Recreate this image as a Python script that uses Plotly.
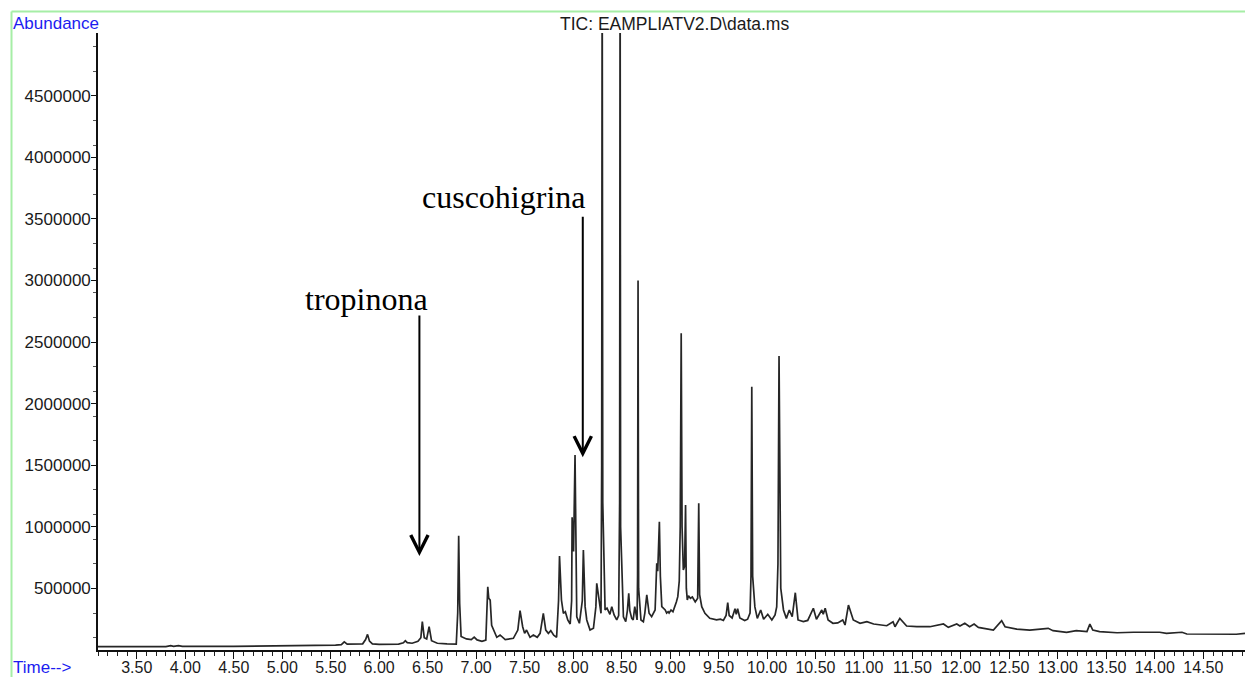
import plotly.graph_objects as go

# ---------------- data ----------------
retention_time_min = [
    3.10, 3.50, 3.80, 3.85, 3.88, 3.93, 3.97, 4.50, 5.00, 5.30, 5.55, 5.61, 5.64, 5.67, 5.75, 5.83,
    5.86, 5.88, 5.90, 5.93, 6.00, 6.10, 6.20, 6.25, 6.27, 6.29, 6.34, 6.40, 6.43, 6.445, 6.465, 6.49,
    6.515, 6.54, 6.60, 6.70, 6.795, 6.81, 6.82, 6.83, 6.845, 6.90, 6.95, 6.98, 7.01, 7.06, 7.10, 7.11,
    7.12, 7.13, 7.145, 7.16, 7.178, 7.213, 7.247, 7.30, 7.384, 7.43, 7.453, 7.48, 7.50, 7.52, 7.556,
    7.59, 7.63, 7.66, 7.693, 7.718, 7.745, 7.77, 7.80, 7.83, 7.85, 7.86, 7.88, 7.90, 7.92, 7.945,
    7.97, 7.985, 7.99, 8.005, 8.02, 8.03, 8.038, 8.065, 8.095, 8.106, 8.124, 8.141, 8.175, 8.21,
    8.235, 8.244, 8.26, 8.278, 8.288, 8.295, 8.300, 8.306, 8.33, 8.35, 8.364, 8.38, 8.399, 8.423,
    8.45, 8.47, 8.48, 8.485, 8.49, 8.519, 8.543, 8.56, 8.574, 8.585, 8.605, 8.62, 8.636, 8.65, 8.66,
    8.665, 8.670, 8.676, 8.70, 8.725, 8.74, 8.76, 8.77, 8.784, 8.81, 8.83, 8.846, 8.863, 8.873, 8.89,
    8.90, 8.915, 8.93, 8.95, 8.965, 8.98, 8.99, 9.01, 9.03, 9.05, 9.065, 9.08, 9.095, 9.105, 9.115,
    9.124, 9.137, 9.15, 9.16, 9.168, 9.178, 9.19, 9.21, 9.23, 9.26, 9.285, 9.296, 9.305, 9.327, 9.36,
    9.41, 9.48, 9.52, 9.55, 9.578, 9.595, 9.61, 9.64, 9.67, 9.683, 9.697, 9.72, 9.77, 9.80, 9.825,
    9.835, 9.843, 9.852, 9.862, 9.875, 9.90, 9.935, 9.965, 10.008, 10.05, 10.083, 10.10, 10.113,
    10.124, 10.134, 10.142, 10.17, 10.20, 10.23, 10.26, 10.292, 10.32, 10.375, 10.42, 10.478, 10.51,
    10.565, 10.58, 10.60, 10.63, 10.68, 10.73, 10.781, 10.805, 10.84, 10.864, 10.89, 10.96, 11.03,
    11.10, 11.17, 11.235, 11.30, 11.32, 11.37, 11.39, 11.406, 11.44, 11.545, 11.68, 11.82, 11.87,
    11.957, 11.99, 12.04, 12.09, 12.136, 12.18, 12.335, 12.37, 12.42, 12.455, 12.575, 12.71, 12.90,
    12.95, 13.09, 13.19, 13.30, 13.33, 13.36, 13.43, 13.61, 13.78, 14.05, 14.12, 14.28, 14.33, 14.64,
    14.84, 14.93,
]
abundance = [
    28000, 27000, 28000, 36000, 30000, 35000, 29000, 30000, 33000, 36000, 40000, 44000, 66000, 48000, 46000, 50000,
    85000, 127000, 72000, 50000, 46000, 44000, 48000, 58000, 75000, 60000, 55000, 70000, 100000, 230000, 100000, 90000,
    189000, 75000, 55000, 50000, 48000, 300000, 928000, 380000, 110000, 90000, 85000, 105000, 82000, 70000, 80000, 300000,
    514000, 420000, 405000, 200000, 162000, 103000, 122000, 85000, 95000, 162000, 319000, 189000, 135000, 162000, 103000,
    122000, 103000, 135000, 298000, 162000, 135000, 157000, 120000, 103000, 400000, 763000, 406000, 298000, 311000, 244000,
    211000, 400000, 1078000, 800000, 1583000, 500000, 270000, 217000, 400000, 812000, 352000, 244000, 162000, 176000,
    350000, 541000, 460000, 352000, 298000, 1500000, 5800000, 1200000, 325000, 340000, 311000, 290000, 352000, 284000,
    244000, 280000, 1200000, 5800000, 1000000, 270000, 230000, 320000, 460000, 320000, 257000, 244000, 352000, 270000, 244000,
    600000, 3000000, 500000, 244000, 230000, 300000, 447000, 370000, 298000, 270000, 300000, 325000, 704000, 640000, 1042000,
    600000, 352000, 340000, 325000, 300000, 311000, 300000, 325000, 310000, 352000, 390000, 433000, 560000, 1000000, 2572000,
    1000000, 650000, 680000, 1177000, 500000, 406000, 440000, 420000, 430000, 390000, 420000, 1191000, 450000, 352000, 298000,
    257000, 244000, 250000, 240000, 280000, 385000, 280000, 260000, 335000, 290000, 335000, 260000, 240000, 250000, 300000,
    600000, 2138000, 600000, 487000, 350000, 257000, 325000, 250000, 290000, 244000, 284000, 350000, 700000,
    2387000, 650000, 501000, 325000, 257000, 325000, 270000, 465000, 244000, 230000, 240000, 339000, 250000,
    325000, 290000, 339000, 244000, 217000, 220000, 244000, 203000, 365000, 298000, 244000, 217000, 230000,
    211000, 203000, 197000, 230000, 189000, 257000, 240000, 230000, 195000, 189000, 189000, 211000, 184000,
    211000, 195000, 217000, 189000, 211000, 184000, 162000, 190000, 238000, 189000, 170000, 162000, 176000,
    157000, 144000, 157000, 149000, 211000, 162000, 149000, 140000, 144000, 144000, 135000, 144000, 130000, 128000,
    128000, 135000,
]

y_tick_values = [500000, 1000000, 1500000, 2000000, 2500000, 3000000, 3500000, 4000000, 4500000]
x_range = [3.10, 14.93]
y_range = [0, 5010000]

compound_names = ["tropinona", "cuscohigrina"]
arrow_tip_time = [6.415, 8.10]
arrow_tip_abundance = [763000, 1566000]

title_text = "TIC: EAMPLIATV2.D\\data.ms"

# ---------------- figure ----------------
W, H = 1245, 677
ML, MR, MT, MB = 98, 0, 33, 27
PW, PH = W - ML - MR, H - MT - MB


def px_x(px):
    return (px - ML) / PW


def px_y(py):
    return (H - MB - py) / PH


fig = go.Figure()
fig.add_trace(go.Scatter(
    x=retention_time_min, y=abundance, mode="lines",
    line=dict(color="#262626", width=1.7), hoverinfo="skip", showlegend=False,
))

sans = "Liberation Sans, Arial, sans-serif"
serif = "Liberation Serif, Times New Roman, serif"

fig.update_xaxes(
    range=x_range, showgrid=False, zeroline=False,
    showline=True, linecolor="#111111", linewidth=1.6,
    ticks="outside", ticklen=7, tickwidth=1.4, tickcolor="#111111",
    tick0=3.5, dtick=0.5, tickformat=".2f",
    tickfont=dict(family=sans, size=16, color="#1a1a1a"), ticklabelstandoff=-5,
    minor=dict(dtick=0.1, tick0=3.5, ticks="outside", ticklen=4, tickwidth=1.2, tickcolor="#222222"),
)
fig.update_yaxes(
    range=y_range, showgrid=False, zeroline=False,
    showline=True, linecolor="#111111", linewidth=1.6,
    ticks="outside", ticklen=5, tickwidth=1.2, tickcolor="#111111",
    tickmode="array", tickvals=y_tick_values, tickformat="d",
    tickfont=dict(family=sans, size=17, color="#1a1a1a"), ticklabelstandoff=-3,
    minor=dict(tick0=100000, dtick=200000, ticks="outside", ticklen=3, tickwidth=1, tickcolor="#555555"),
)

annotations = [
    dict(text="Abundance", xref="paper", yref="paper", x=px_x(11), y=px_y(23),
         xanchor="left", yanchor="middle", showarrow=False,
         font=dict(family=sans, size=17, color="#1c1cf0")),
    dict(text="Time-->", xref="paper", yref="paper", x=px_x(11), y=px_y(667),
         xanchor="left", yanchor="middle", showarrow=False,
         font=dict(family=sans, size=17, color="#1c1cf0")),
    dict(text=title_text, xref="paper", yref="paper", x=px_x(674), y=px_y(24),
         xanchor="center", yanchor="middle", showarrow=False,
         font=dict(family=sans, size=17.5, color="#1a1a1a")),
    dict(text=compound_names[0], xref="paper", yref="paper", x=px_x(366), y=px_y(299),
         xanchor="center", yanchor="middle", showarrow=False,
         font=dict(family=serif, size=32, color="#000000")),
    dict(text=compound_names[1], xref="paper", yref="paper", x=px_x(504), y=px_y(197),
         xanchor="center", yanchor="middle", showarrow=False,
         font=dict(family=serif, size=32, color="#000000")),
]
for t, a in zip(arrow_tip_time, arrow_tip_abundance):
    annotations.append(dict(
        text="", x=t, y=a, xref="x", yref="y", ax=0, ay=-242,
        showarrow=True, arrowhead=5, arrowsize=1.7, arrowwidth=2, arrowcolor="#000000", standoff=0,
    ))

shapes = [
    dict(type="line", xref="paper", yref="paper", x0=px_x(11.5), x1=px_x(1245), y0=px_y(11.5), y1=px_y(11.5),
         line=dict(color="#a6eea6", width=2)),
    dict(type="line", xref="paper", yref="paper", x0=px_x(11.5), x1=px_x(11.5), y0=px_y(11.5), y1=px_y(677),
         line=dict(color="#a6eea6", width=2)),
]

fig.update_layout(
    width=W, height=H, margin=dict(l=ML, r=MR, t=MT, b=MB, autoexpand=False),
    paper_bgcolor="white", plot_bgcolor="white",
    annotations=annotations, shapes=shapes, hovermode=False,
)

fig.write_html("out.html")
